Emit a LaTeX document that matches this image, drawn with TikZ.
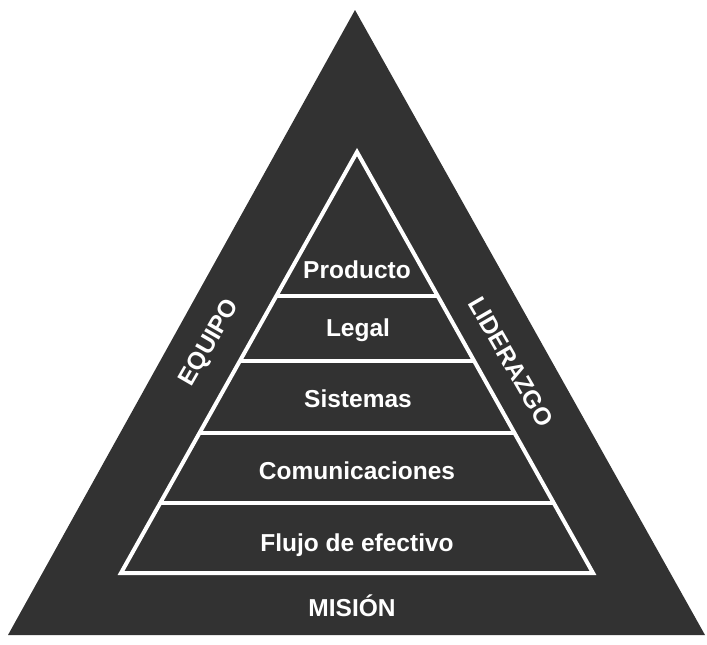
\documentclass[tikz,border=0pt]{standalone}
\usepackage{fontspec}
\setmainfont{Liberation Sans}
\definecolor{slate}{RGB}{50,50,50}
\begin{document}
\begin{tikzpicture}[x=1pt, y=-1pt,
    lbl/.style = {text=white, font=\bfseries\fontsize{24.5}{28}\selectfont, inner sep=0pt},
    side/.style = {lbl, anchor=center},
    sep/.style = {draw=white, line width=4pt}
]
    \useasboundingbox (0,0) rectangle (707,645);

    % outer triangle
    \coordinate (apex) at (355,10);
    \coordinate (bl) at (8,635);
    \coordinate (br) at (705,635);
    \fill[slate] (apex) -- (bl) -- (br) -- cycle;

    % inner pyramid
    \coordinate (top) at (357,152);
    \coordinate (ibl) at (121,573);
    \coordinate (ibr) at (593,573);
    \draw[sep, line join=miter] (top) -- (ibl) -- (ibr) -- cycle;
    \foreach \y in {296, 361, 433, 503} {
        \pgfmathsetmacro{\hw}{0.5606*(\y-152)}
        \draw[sep] (357-\hw,\y) -- (357+\hw,\y);
    }

    \node[lbl, anchor=base] (producto) at (357,278) {Producto};
    \node[lbl, anchor=base] (legal) at (358,336) {Legal};
    \node[lbl, anchor=base] (sistemas) at (358,407) {Sistemas};
    \node[lbl, anchor=base] (comunic) at (357,479) {Comunicaciones};
    \node[lbl, anchor=base] (flujo) at (357,551) {Flujo de efectivo};
    \node[lbl, anchor=base] (mision) at (352,616) {MISIÓN};

    \node[side, rotate=60] (equipo) at (210,343) {EQUIPO};
    \node[side, rotate=-60] (liderazgo) at (511,362) {LIDERAZGO};
\end{tikzpicture}
\end{document}
